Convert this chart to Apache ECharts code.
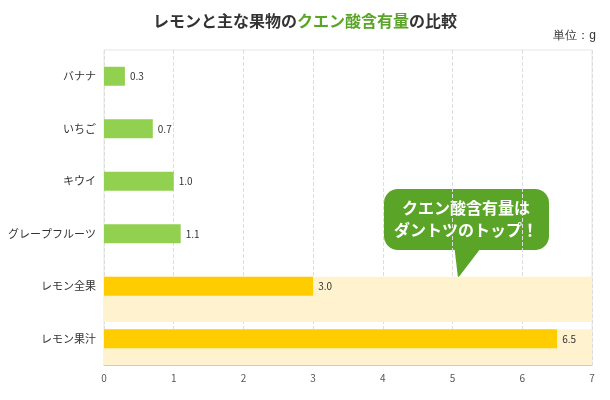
<!DOCTYPE html>
<html>
<head>
<meta charset="utf-8">
<script src="https://cdn.jsdelivr.net/npm/echarts@6/dist/echarts.min.js"></script>
<style>html,body{margin:0;padding:0;background:#fff}#chart{width:610px;height:400px}</style>
</head>
<body>
<div id="chart"></div>
<script>
// データ（上から下の順）
var fruits = ['バナナ', 'いちご', 'キウイ', 'グレープフルーツ', 'レモン全果', 'レモン果汁'];
var citric = [0.3, 0.7, 1.0, 1.1, 3.0, 6.5];
var isLemon = [false, false, false, false, true, true];

var chart = echarts.init(document.getElementById('chart'));
var font = '"Noto Sans CJK JP", sans-serif';

chart.setOption({
    textStyle: { fontFamily: font },
    title: {
        text: '{a|レモンと主な果物の}{b|クエン酸含有量}{a|の比較}',
        left: 'center', top: 8,
        textStyle: { rich: {
            a: { fontSize: 16, color: '#333', fontFamily: font },
            b: { fontSize: 16, color: '#5aa527', fontWeight: 'bold', fontFamily: font }
        } }
    },
    graphic: [
        { type: 'text', right: 14, top: 30, style: { text: '単位：g', fontSize: 12, fill: '#333', font: '12px ' + font } },
        { type: 'group', left: 384, top: 189, children: [
            { type: 'polygon', shape: { points: [[70, 55], [100, 55], [74, 89]] }, style: { fill: '#5aa527' } },
            { type: 'rect', shape: { x: 0, y: 0, width: 165, height: 61, r: 14 }, style: { fill: '#5aa527' } },
            { type: 'text', style: { x: 82, y: 30, text: 'クエン酸含有量は\nダントツのトップ！', fill: '#fff',
                font: 'bold 16px ' + font, align: 'center', verticalAlign: 'middle', lineHeight: 22 } }
        ] }
    ],
    grid: { left: 104, right: 18, top: 50, bottom: 35, show: true, borderColor: '#e6e6e6' },
    xAxis: {
        type: 'value', min: 0, max: 7, interval: 1,
        axisLine: { show: true, lineStyle: { color: '#ccc' } },
        axisTick: { show: false },
        axisLabel: { color: '#555', fontSize: 10 },
        splitLine: { lineStyle: { type: 'dashed', color: '#ddd' } }
    },
    yAxis: {
        type: 'category', data: fruits, inverse: true,
        axisLine: { show: false }, axisTick: { show: false },
        axisLabel: { color: '#333', fontSize: 11 }
    },
    series: [
        {
            type: 'bar', silent: true, barWidth: '86%', barGap: '-100%',
            data: fruits.map(function (f, i) {
                return { value: 7, itemStyle: { color: isLemon[i] ? '#fff3cf' : 'rgba(0,0,0,0)' } };
            }),
            z: 1
        },
        {
            type: 'bar', barWidth: 19, z: 2,
            data: citric.map(function (v, i) {
                return { value: v, itemStyle: { color: isLemon[i] ? '#ffcc00' : '#92d050' } };
            }),
            label: { show: true, position: 'right', color: '#333', fontSize: 10,
                formatter: function (p) { return p.value.toFixed(1); } }
        }
    ]
});
</script>
</body>
</html>
